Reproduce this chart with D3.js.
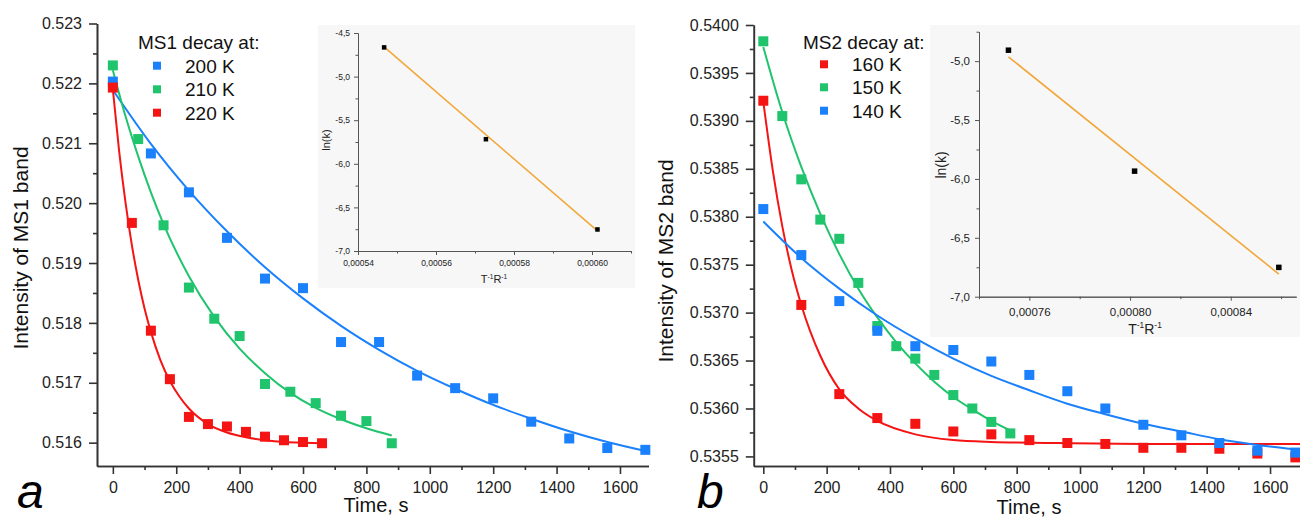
<!DOCTYPE html>
<html><head><meta charset="utf-8">
<script src="https://cdn.jsdelivr.net/npm/d3@7"></script>
<style>
body{margin:0;background:#fff;}
svg{display:block;font-family:"Liberation Sans",Arial,sans-serif;}
</style>
</head><body>
<svg id="c" width="1300" height="522"></svg>
<script>
// ---------- Panel a : MS1 decay ----------
const a200T = [0,120,240,360,480,600,720,840,960,1080,1200,1320,1440,1560,1680];
const a200Y = [0.52203,0.52083,0.52018,0.51942,0.51874,0.51858,0.51768,0.51768,0.51712,0.51691,0.51674,0.51635,0.51607,0.51591,0.51588];
const a210T = [0,80,160,240,320,400,480,560,640,720,800,880];
const a210Y = [0.52230,0.52107,0.51963,0.51859,0.51807,0.51778,0.51698,0.51685,0.51666,0.51645,0.51636,0.51599];
const a220T = [0,60,120,180,240,300,360,420,480,540,600,660];
const a220Y = [0.52193,0.51967,0.51787,0.51706,0.51643,0.51631,0.51627,0.51618,0.51610,0.51604,0.51601,0.51599];
// fitted curves
const a200FitT = [0,120,240,360,480,600,720,840,960,1080,1200,1320,1440,1560,1680];
const a200FitY = [0.52189,0.52099,0.52021,0.51953,0.51893,0.51841,0.51795,0.51755,0.51720,0.51690,0.51663,0.51640,0.51619,0.51601,0.51586];
const a210FitT = [0,40,80,120,160,240,320,400,480,560,640,720,800,880];
const a210FitY = [0.52222,0.52145,0.52078,0.52018,0.51965,0.51878,0.51810,0.51757,0.51716,0.51683,0.51658,0.51639,0.51624,0.51612];
const a220FitT = [0,20,40,60,80,100,120,150,180,210,240,300,360,420,480,540,600,660];
const a220FitY = [0.52190,0.52086,0.52001,0.51930,0.51872,0.51824,0.51785,0.51738,0.51703,0.51677,0.51657,0.51631,0.51617,0.51609,0.51604,0.51601,0.51600,0.51599];
const aLegendLabels = ["200 K","210 K","220 K"];
const aYTicks = [0.516,0.517,0.518,0.519,0.520,0.521,0.522,0.523];
const aYMinor = [0.5165,0.5175,0.5185,0.5195,0.5205,0.5215,0.5225];
const aXTicks = [0,200,400,600,800,1000,1200,1400,1600];
const aXMinor = [100,300,500,700,900,1100,1300,1500];

// inset a : Arrhenius
const insAX = [0.0005467,0.0005728,0.0006014];
const insAY = [-4.665,-5.718,-6.753];
const insAFitX = [0.0005467,0.0006014];
const insAFitY = [-4.66,-6.77];
const insAXTicks = [0.00054,0.00056,0.00058,0.00060];
const insAXLabels = ["0,00054","0,00056","0,00058","0,00060"];
const insAXMinor = [0.00055,0.00057,0.00059,0.00061];
const insAYTicks = [-7.0,-6.5,-6.0,-5.5,-5.0,-4.5];
const insAYLabels = ["-7,0","-6,5","-6,0","-5,5","-5,0","-4,5"];
const insAYMinor = [-6.75,-6.25,-5.75,-5.25,-4.75];

// ---------- Panel b : MS2 decay ----------
const b160T = [0,120,240,360,480,600,720,840,960,1080,1200,1320,1440,1560,1680];
const b160Y = [0.53921,0.53708,0.53615,0.53590,0.53584,0.53576,0.53573,0.53567,0.53564,0.53563,0.53559,0.53559,0.53558,0.53553,0.53549];
const b150T = [0,60,120,180,240,300,360,420,480,540,600,660,720,780];
const b150Y = [0.53983,0.53905,0.53839,0.53797,0.53777,0.53731,0.53686,0.53665,0.53652,0.53635,0.53614,0.53600,0.53586,0.53574];
const b140T = [0,120,240,360,480,600,720,840,960,1080,1200,1320,1440,1560,1680];
const b140Y = [0.53808,0.53760,0.53712,0.53681,0.53665,0.53661,0.53649,0.53635,0.53618,0.53600,0.53583,0.53572,0.53564,0.53556,0.53554];
const b160FitT = [0,30,60,90,120,180,240,300,360,480,600,720,900,1200,1700];
const b160FitY = [0.53920,0.53848,0.53790,0.53744,0.53708,0.53655,0.53620,0.53600,0.53587,0.53573,0.53567,0.53565,0.53564,0.53563,0.53563];
const b150FitT = [0,60,120,180,240,300,360,420,480,540,600,660,720,780];
const b150FitY = [0.53977,0.53909,0.53852,0.53803,0.53761,0.53725,0.53695,0.53669,0.53647,0.53628,0.53612,0.53599,0.53587,0.53577];
const b140FitT = [0,120,240,360,480,600,720,840,960,1080,1200,1320,1440,1560,1680,1700];
const b140FitY = [0.53795,0.53757,0.53725,0.53697,0.53673,0.53652,0.53634,0.53619,0.53605,0.53594,0.53584,0.53576,0.53568,0.53562,0.53557,0.53556];
const bLegendLabels = ["160 K","150 K","140 K"];
const bYTicks = [0.5355,0.5360,0.5365,0.5370,0.5375,0.5380,0.5385,0.5390,0.5395,0.5400];
const bYMinor = [0.53575,0.53625,0.53675,0.53725,0.53775,0.53825,0.53875,0.53925,0.53975];
const bXTicks = [0,200,400,600,800,1000,1200,1400,1600];
const bXMinor = [100,300,500,700,900,1100,1300,1500];

const insBX = [0.0007517,0.0008018,0.0008591];
const insBY = [-4.907,-5.934,-6.751];
const insBFitX = [0.0007517,0.0008591];
const insBFitY = [-4.963,-6.808];
const insBXTicks = [0.00076,0.00080,0.00084];
const insBXLabels = ["0,00076","0,00080","0,00084"];
const insBXMinor = [0.00074,0.00078,0.00082,0.00086];
const insBYTicks = [-7.0,-6.5,-6.0,-5.5,-5.0];
const insBYLabels = ["-7,0","-6,5","-6,0","-5,5","-5,0"];
const insBYMinor = [-6.75,-6.25,-5.75,-5.25,-4.75];

const BLUE = "#1a80fb", GREEN = "#1fc46c", RED = "#f41414", ORANGE = "#f2a73a";

const svg = d3.select("#c");

function styleAxis(g, color, width, fontSize){
  g.select(".domain").attr("stroke", color).attr("stroke-width", width);
  g.selectAll(".tick line").attr("stroke", color).attr("stroke-width", width);
  g.selectAll(".tick text").attr("fill", "#222").attr("font-size", fontSize)
    .attr("font-family", '"Liberation Sans",Arial,sans-serif');
}

function drawMain(cfg){
  const x = d3.scaleLinear().domain(cfg.xDomain).range(cfg.xRange);
  const y = d3.scaleLinear().domain(cfg.yDomain).range(cfg.yRange);
  const g = svg.append("g");
  const axY = cfg.xRange[0], axX = cfg.yRange[0];
  // minor ticks
  const ym = g.append("g").attr("transform",`translate(${axY},0)`)
    .call(d3.axisLeft(y).tickValues(cfg.yMinor).tickSizeInner(4).tickSizeOuter(0).tickFormat(""));
  styleAxis(ym, "#333", 1.6, 16);
  const xm = g.append("g").attr("transform",`translate(0,${axX})`)
    .call(d3.axisBottom(x).tickValues(cfg.xMinor).tickSizeInner(4).tickSizeOuter(0).tickFormat(""));
  styleAxis(xm, "#333", 1.6, 16);
  const ya = g.append("g").attr("transform",`translate(${axY},0)`)
    .call(d3.axisLeft(y).tickValues(cfg.yTicks).tickSizeInner(8).tickSizeOuter(0).tickPadding(7).tickFormat(d3.format(cfg.yFmt)));
  styleAxis(ya, "#333", 1.6, 16);
  const xa = g.append("g").attr("transform",`translate(0,${axX})`)
    .call(d3.axisBottom(x).tickValues(cfg.xTicks).tickSizeInner(8).tickSizeOuter(0).tickPadding(8).tickFormat(d3.format("d")));
  styleAxis(xa, "#333", 1.6, 16);

  const line = d3.line().x(d=>x(d[0])).y(d=>y(d[1])).curve(d3.curveMonotoneX);
  cfg.series.forEach(s=>{
    g.append("path").datum(d3.zip(s.fitT, s.fitY)).attr("d", line)
      .attr("fill","none").attr("stroke", s.color).attr("stroke-width", 2);
  });
  cfg.series.forEach(s=>{
    g.selectAll(null).data(d3.zip(s.t, s.y)).join("rect")
      .attr("x", d=>x(d[0])-5).attr("y", d=>y(d[1])-5)
      .attr("width",10).attr("height",10).attr("fill", s.color);
  });
  // legend
  const L = cfg.legend;
  g.append("text").attr("x", L.titleX).attr("y", L.titleY).attr("font-size",19).attr("fill","#111").text(L.title);
  cfg.series.forEach((s,i)=>{
    const cy = L.rowY[i];
    g.append("rect").attr("x", L.sqX-4).attr("y", cy-4).attr("width",8).attr("height",8).attr("fill", s.color);
    g.append("text").attr("x", L.labX).attr("y", cy+7).attr("font-size",19).attr("fill","#111").text(L.labels[i]);
  });
  // axis titles
  g.append("text").attr("transform",`translate(${cfg.yTitlePos[0]},${cfg.yTitlePos[1]}) rotate(-90)`)
    .attr("text-anchor","middle").attr("font-size",21).attr("fill","#111").text(cfg.yTitle);
  g.append("text").attr("x", cfg.xTitlePos[0]).attr("y", cfg.xTitlePos[1])
    .attr("text-anchor","middle").attr("font-size",20).attr("fill","#111").text("Time, s");
  g.append("text").attr("x", cfg.letterPos[0]).attr("y", cfg.letterPos[1])
    .attr("font-size",48).attr("font-style","italic").attr("fill","#000").text(cfg.letter);
}

function drawInset(cfg){
  const g = svg.append("g");
  g.append("rect").attr("x",cfg.bg[0]).attr("y",cfg.bg[1]).attr("width",cfg.bg[2]).attr("height",cfg.bg[3]).attr("fill","#f7f7f7");
  const x = d3.scaleLinear().domain(cfg.xDomain).range(cfg.xRange);
  const y = d3.scaleLinear().domain(cfg.yDomain).range(cfg.yRange);
  const axY = cfg.xRange[0], axX = cfg.yRange[0];
  const fs = cfg.fs;
  const c = "#555";
  const ym = g.append("g").attr("transform",`translate(${axY},0)`)
    .call(d3.axisLeft(y).tickValues(cfg.yMinor).tickSizeInner(2.5).tickSizeOuter(0).tickFormat(""));
  styleAxis(ym, c, 1, fs);
  const xm = g.append("g").attr("transform",`translate(0,${axX})`)
    .call(d3.axisBottom(x).tickValues(cfg.xMinor).tickSizeInner(2.5).tickSizeOuter(0).tickFormat(""));
  styleAxis(xm, c, 1, fs);
  const ya = g.append("g").attr("transform",`translate(${axY},0)`)
    .call(d3.axisLeft(y).tickValues(cfg.yTicks).tickSizeInner(4).tickSizeOuter(0).tickPadding(cfg.yPad)
      .tickFormat((d,i)=>cfg.yLabels[i]));
  styleAxis(ya, c, 1, fs);
  const xa = g.append("g").attr("transform",`translate(0,${axX})`)
    .call(d3.axisBottom(x).tickValues(cfg.xTicks).tickSizeInner(4).tickSizeOuter(0).tickPadding(cfg.xPad)
      .tickFormat((d,i)=>cfg.xLabels[i]));
  styleAxis(xa, c, 1, fs);

  const line = d3.line().x(d=>x(d[0])).y(d=>y(d[1]));
  g.append("path").datum(d3.zip(cfg.fitX, cfg.fitY)).attr("d", line)
    .attr("fill","none").attr("stroke", ORANGE).attr("stroke-width", 1.6);
  const m = cfg.marker;
  g.selectAll(null).data(d3.zip(cfg.px, cfg.py)).join("rect")
    .attr("x", d=>x(d[0])-m/2).attr("y", d=>y(d[1])-m/2)
    .attr("width",m).attr("height",m).attr("fill","#000");

  g.append("text").attr("transform",`translate(${cfg.yTitlePos[0]},${cfg.yTitlePos[1]}) rotate(-90)`)
    .attr("text-anchor","middle").attr("font-size",cfg.tfs).attr("fill","#222").text("ln(k)");
  const t = g.append("text").attr("x", cfg.xTitlePos[0]).attr("y", cfg.xTitlePos[1])
    .attr("text-anchor","middle").attr("font-size",cfg.tfs).attr("fill","#222");
  t.append("tspan").text("T");
  t.append("tspan").attr("font-size", cfg.tfs*0.6).attr("dy", -cfg.tfs*0.4).text("-1");
  t.append("tspan").attr("dy", cfg.tfs*0.4).text("R");
  t.append("tspan").attr("font-size", cfg.tfs*0.6).attr("dy", -cfg.tfs*0.4).text("-1");
}

drawMain({
  xDomain:[-50,1690], xRange:[97,648.5],
  yDomain:[0.51561,0.523], yRange:[466,23.5],
  yTicks:aYTicks, yMinor:aYMinor, yFmt:".3f", xTicks:aXTicks, xMinor:aXMinor,
  series:[
    {t:a200T,y:a200Y,fitT:a200FitT,fitY:a200FitY,color:BLUE},
    {t:a210T,y:a210Y,fitT:a210FitT,fitY:a210FitY,color:GREEN},
    {t:a220T,y:a220Y,fitT:a220FitT,fitY:a220FitY,color:RED}],
  legend:{title:"MS1 decay at:", titleX:138, titleY:49, sqX:157, labX:185, rowY:[65.7,89.3,112.7], labels:aLegendLabels},
  yTitle:"Intensity of MS1 band", yTitlePos:[28,248],
  xTitlePos:[376,512], letter:"a", letterPos:[17,508]
});

drawMain({
  xDomain:[-30,1700], xRange:[753.8,1301.7],
  yDomain:[0.5354,0.5400], yRange:[466,25],
  yTicks:bYTicks, yMinor:bYMinor, yFmt:".4f", xTicks:bXTicks, xMinor:bXMinor,
  series:[
    {t:b160T,y:b160Y,fitT:b160FitT,fitY:b160FitY,color:RED},
    {t:b150T,y:b150Y,fitT:b150FitT,fitY:b150FitY,color:GREEN},
    {t:b140T,y:b140Y,fitT:b140FitT,fitY:b140FitY,color:BLUE}],
  legend:{title:"MS2 decay at:", titleX:803, titleY:49, sqX:824, labX:852, rowY:[64.3,87.3,110.7], labels:bLegendLabels},
  yTitle:"Intensity of MS2 band", yTitlePos:[673,261],
  xTitlePos:[1029,514], letter:"b", letterPos:[697,508]
});

drawInset({
  bg:[318,25,317,263],
  xDomain:[0.00054,0.00061], xRange:[358,631],
  yDomain:[-7.0,-4.5], yRange:[251,33],
  xTicks:insAXTicks, xLabels:insAXLabels, xMinor:insAXMinor,
  yTicks:insAYTicks, yLabels:insAYLabels, yMinor:insAYMinor,
  fs:8.5, tfs:11, yPad:4, xPad:5,
  px:insAX, py:insAY, fitX:insAFitX, fitY:insAFitY, marker:4.5,
  yTitlePos:[330,140], xTitlePos:[494,283]
});

drawInset({
  bg:[930,25,370,312],
  xDomain:[0.00074,0.000866], xRange:[979,1296.2],
  yDomain:[-7.0,-4.75], yRange:[296.7,31.7],
  xTicks:insBXTicks, xLabels:insBXLabels, xMinor:insBXMinor,
  yTicks:insBYTicks, yLabels:insBYLabels, yMinor:insBYMinor,
  fs:11.5, tfs:14, yPad:5, xPad:7,
  px:insBX, py:insBY, fitX:insBFitX, fitY:insBFitY, marker:5.5,
  yTitlePos:[946,165], xTitlePos:[1145,334]
});
</script>
</body></html>
